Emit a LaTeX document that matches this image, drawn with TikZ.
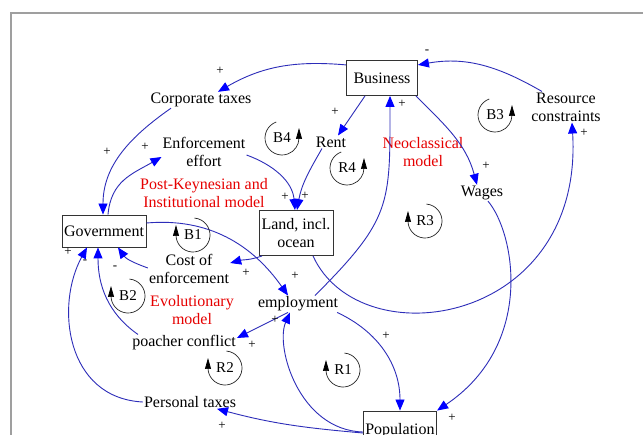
\documentclass[tikz,border=0pt]{standalone}
\usepackage{fontspec}
\setmainfont{Liberation Serif}
\usetikzlibrary{arrows.meta}
\definecolor{linkc}{RGB}{45,45,185}
\definecolor{tipc}{RGB}{0,0,255}
\definecolor{redt}{RGB}{230,0,0}
\tikzset{
 var/.style={inner sep=1pt, align=center, font=\fontsize{16}{18}\selectfont},
 stock/.style={draw=black!80, line width=0.9pt, inner sep=2pt, align=center, font=\fontsize{16}{18}\selectfont},
 model/.style={text=redt, align=center, font=\fontsize{16}{18}\selectfont, inner sep=1pt},
 link/.style={draw=linkc, line width=0.9pt, -{Triangle[length=11pt,width=9pt,color=tipc]}},
 pol/.style={font=\fontsize{13}{13}\selectfont, inner sep=0pt},
 looplab/.style={font=\fontsize{15}{15}\selectfont, inner sep=0pt},
 looparc/.style={draw=black!85, line width=0.7pt, -{Triangle[length=11pt,width=6pt,color=black]}},
}
\newcommand\cwloop[3]{\node[looplab] (#1) at (#2) {#3};
 \draw[looparc] (#1.center) ++(85:17) arc[start angle=85,end angle=-180,radius=17] -- ++(0,10);}
\newcommand\ccwloop[3]{\node[looplab] (#1) at (#2) {#3};
 \draw[looparc] (#1.center) ++(110:17) arc[start angle=110,end angle=360,radius=17] -- ++(0,10);}
\begin{document}
\begin{tikzpicture}[x=1pt,y=1pt]
\useasboundingbox (0,0) rectangle (643,-435);
\clip (0,0) rectangle (643,-435);
\fill[white] (0,0) rectangle (643,-435);
\draw[gray!75, line width=1.2pt] (11,-460) -- (11,-13) -- (670,-13);

% stocks
\node[stock, minimum width=71pt, minimum height=35pt] (bus) at (382,-78) {Business};
\node[stock, minimum width=84pt, minimum height=32pt] (gov) at (104,-231) {Government};
\node[stock, minimum width=74pt, minimum height=45pt] (land) at (296,-233) {Land, incl.\\ocean};
\node[stock, minimum width=72pt, minimum height=40pt] (pop) at (400,-431) {Population};

% variables
\node[var] (ctax) at (201,-100) {Corporate taxes};
\node[var] (enf) at (204,-152) {Enforcement\\effort};
\node[var] (rent) at (331,-142) {Rent};
\node[var] (res) at (566,-107) {Resource\\constraints};
\node[var] (wages) at (482,-193) {Wages};
\node[var] (cost) at (189,-269) {Cost of\\enforcement};
\node[var] (emp) at (298,-304) {employment};
\node[var] (poach) at (184,-343) {poacher conflict};
\node[var] (ptax) at (190,-402) {Personal taxes};

% model labels
\node[model] (pk) at (204,-193) {Post-Keynesian and\\Institutional model};
\node[model] (neo) at (423,-152) {Neoclassical\\model};
\node[model] (evo) at (192,-310) {Evolutionary\\model};

% links
\draw[link] (bus.160) to[out=175,in=30] ([xshift=17pt]ctax.north);
\draw[link] ([xshift=-30pt]ctax.south) to[out=215,in=90] ([xshift=-1pt]gov.north);
\draw[link] ([xshift=4pt]gov.north) to[out=85,in=210,looseness=1.1] ([yshift=-5pt]enf.west);
\draw[link] ([yshift=-3pt]enf.east) to[out=-20,in=95] ([xshift=-1pt]land.north);
\draw[link] ([xshift=-9pt]rent.south) to[out=240,in=80] ([xshift=1pt]land.north);
\draw[link] ([xshift=-17pt]bus.south) -- ([xshift=7pt]rent.north);
\draw[link] ([xshift=-2pt]bus.south east) to[out=-45,in=105] ([xshift=-5pt]wages.north);
\draw[link] ([xshift=-24pt]res.north) to[out=150,in=10] (bus.20);
\draw[link] ([xshift=17pt]emp.north) to[out=45,in=-90,looseness=1.3] ([xshift=8pt]bus.south);
\draw[link] ([xshift=17pt]land.south) .. controls +(47,-103) and +(12,-203) .. ([xshift=6pt]res.south);
\draw[link] ([xshift=6pt]wages.south) .. controls +(27,-32) and +(98,66) .. (pop.north east);
\draw[link] ([xshift=-2pt]emp.south east) to[out=-25,in=90] (pop.north);
\draw[link] ([yshift=-1pt]pop.west) .. controls +(-64,2) and +(-15,-34) .. ([xshift=-8pt]emp.south);
\draw[link] ([yshift=-2pt]pop.west) to[out=175,in=-15] ([xshift=27pt]ptax.south);
\draw[link] ([xshift=-10pt]emp.south) -- ([yshift=5pt]poach.east);
\draw[link] ([yshift=8pt]gov.east) to[out=5,in=125] ([xshift=-10pt]emp.north);
\draw[link] ([xshift=-34pt]land.south) to[out=200,in=15] ([yshift=6pt]cost.east);
\draw[link] ([yshift=1pt]cost.west) to[out=160,in=-55] ([xshift=14pt]gov.south);
\draw[link] ([xshift=-46pt]poach.north) to[out=145,in=-90] ([xshift=-6pt]gov.south);
\draw[link] (ptax.west) .. controls +(-77,4) and +(-32,-58) .. ([xshift=-17pt]gov.south);

% polarities
\node[pol] (p1) at (220,-71) {+};
\node[pol] (p2) at (107,-152) {+};
\node[pol] (p3) at (145,-147) {+};
\node[pol] (p4) at (285,-197) {+};
\node[pol] (p5) at (305,-196) {+};
\node[pol] (p6) at (335,-112) {+};
\node[pol] (p7) at (486,-166) {+};
\node[pol] (p8) at (427,-52) {-};
\node[pol] (p9) at (402,-104) {+};
\node[pol] (p10) at (584,-133) {+};
\node[pol] (p11) at (452,-418) {+};
\node[pol] (p12) at (386,-336) {+};
\node[pol] (p13) at (275,-320) {+};
\node[pol] (p14) at (252,-345) {+};
\node[pol] (p15) at (222,-426) {+};
\node[pol] (p16) at (295,-276) {+};
\node[pol] (p17) at (246,-273) {+};
\node[pol] (p18) at (115,-268) {-};
\node[pol] (p19) at (85,-262) {-};
\node[pol] (p20) at (68,-252) {+};

% loops
\ccwloop{B4}{282,-138}{B4}
\ccwloop{R4}{347,-168}{R4}
\ccwloop{B3}{495,-115}{B3}
\cwloop{R3}{425,-221}{R3}
\cwloop{B1}{193,-235}{B1}
\cwloop{B2}{128,-296}{B2}
\cwloop{R2}{225,-368}{R2}
\cwloop{R1}{343,-370}{R1}
\end{tikzpicture}
\end{document}
